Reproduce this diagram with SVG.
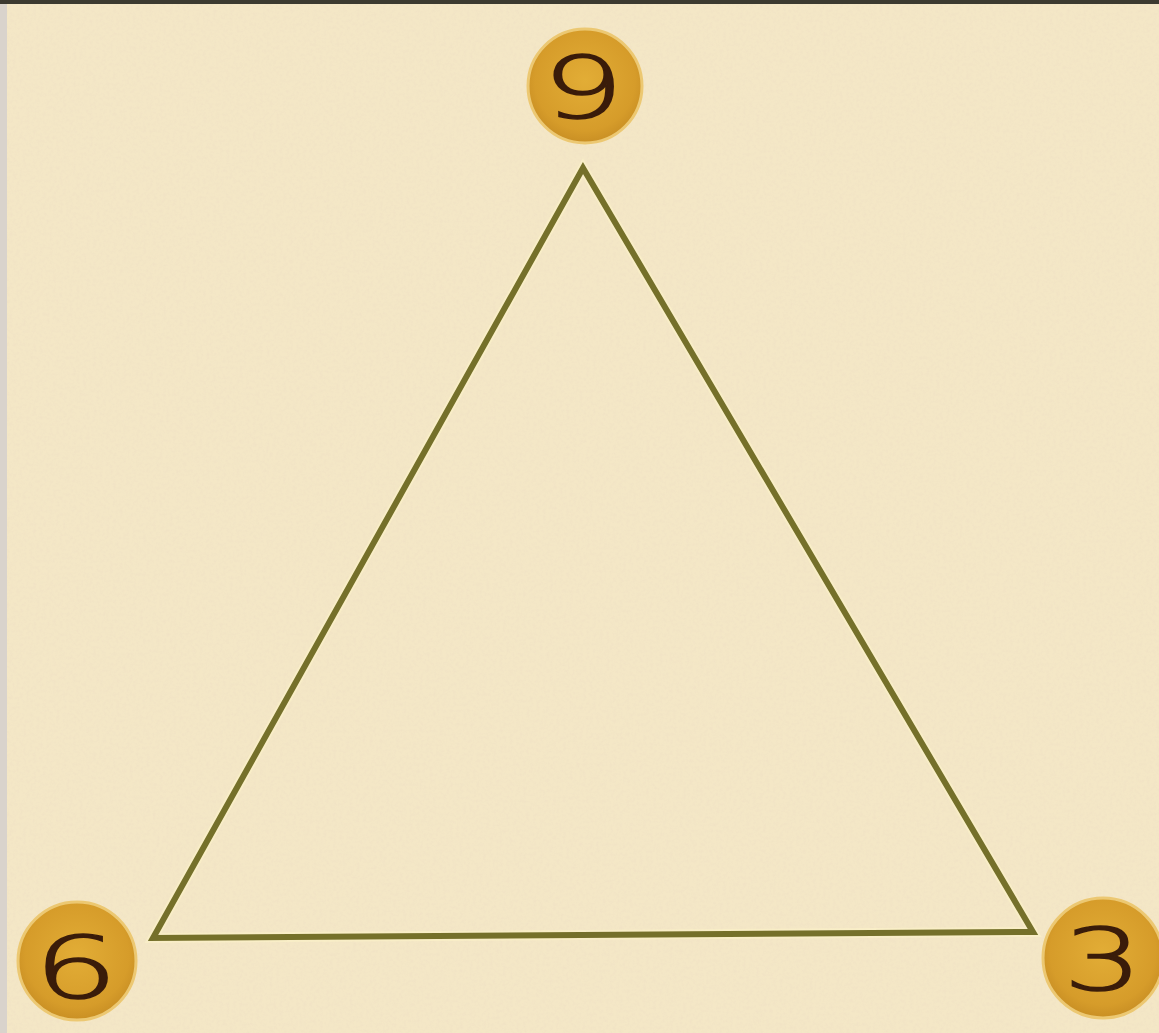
<svg xmlns="http://www.w3.org/2000/svg" width="1159" height="1033" viewBox="0 0 1159 1033">
<defs>
<style>
.num{stroke:#ecc872;stroke-width:3}
.digit{font-family:"DejaVu Sans","Liberation Sans",sans-serif;font-weight:200;font-size:86px;fill:#3a1c0a;stroke:#3a1c0a;stroke-width:1.5;text-anchor:middle}
.edge{fill:none;stroke:#75702a;stroke-width:6;stroke-linejoin:miter}
.halo{fill:none;stroke:#fbf1c8;stroke-width:10;opacity:0.7}
</style>
<filter id="grain" x="0" y="0" width="100%" height="100%">
<feTurbulence type="fractalNoise" baseFrequency="0.3" numOctaves="3" seed="4" result="n"/>
<feColorMatrix in="n" type="matrix" values="0 0 0 0 0.86  0 0 0 0 0.74  0 0 0 0 0.55  0 0 0 -1.6 1.0"/>
</filter>
<radialGradient id="gold" cx="50%" cy="45%" r="55%">
<stop offset="0" stop-color="#e2ad36"/>
<stop offset="0.8" stop-color="#d69c2a"/>
<stop offset="1" stop-color="#c98f24"/>
</radialGradient>
</defs>
<rect width="1159" height="1033" fill="#f4e7c6"/>
<rect width="1159" height="1033" filter="url(#grain)" opacity="0.6"/>
<rect x="0" y="0" width="7" height="1033" fill="#d9d3cc"/>
<rect x="0" y="0" width="1159" height="4" fill="#3c3a30"/>
<g id="connectors">
<path class="halo" d="M583,168 L153,938 L1033,932 Z"/>
<path class="edge" d="M583,168 L153,938 L1033,932 Z"/>
</g>
<g id="node-9">
<circle class="num" cx="585" cy="86" r="57" fill="url(#gold)"/>
<text class="digit" transform="translate(583,118) scale(1.5,1)" x="0" y="0">9</text>
</g>
<g id="node-6">
<circle class="num" cx="77" cy="961" r="59" fill="url(#gold)"/>
<text class="digit" transform="translate(76,998) scale(1.55,1)" x="0" y="0">6</text>
</g>
<g id="node-3">
<circle class="num" cx="1103" cy="958" r="60" fill="url(#gold)"/>
<text class="digit" transform="translate(1103,990) scale(1.45,1)" x="0" y="0">3</text>
</g>
</svg>
